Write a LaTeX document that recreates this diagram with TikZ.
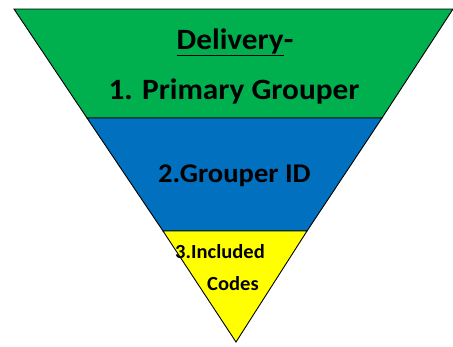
\documentclass[tikz,border=0pt]{standalone}
\usepackage{fontspec}
\setmainfont{Carlito}
\usepackage{tikz}
\definecolor{green}{rgb}{0,0.69,0.31}
\definecolor{blue}{rgb}{0,0.44,0.75}
\definecolor{yellow}{rgb}{1,1,0}
\tikzset{
    layer/.style = {draw=black, line width=0.9pt, line join=miter},
    label/.style = {anchor=base, font=\bfseries\fontsize{#1}{#1}\selectfont, inner sep=0pt, xscale=1.06}
}

\begin{document}
\begin{tikzpicture}[x=1pt,y=-1pt]
    \useasboundingbox (0,0) rectangle (453,346);
    
    \coordinate (tl) at (14,9);
    \coordinate (tr) at (453,9);
    \coordinate (ml) at (87,118);
    \coordinate (mr) at (382,118);
    \coordinate (bl) at (163,231);
    \coordinate (br) at (307,231);
    \coordinate (apex) at (236,342);
    
    \draw [layer, fill=green] (tl) -- (tr) -- (mr) -- (ml) -- cycle;
    \draw [layer, fill=blue] (ml) -- (mr) -- (br) -- (bl) -- cycle;
    \draw [layer, fill=yellow] (bl) -- (br) -- (apex) -- cycle;
    
    \node [label=29.5] (title) at (235,49) {\underline{Delivery}-};
    \node [label=29.5] (primary) at (234,99) {1. Primary Grouper};
    \node [label=27] (grouper) at (234.5,182) {2.Grouper ID};
    \node [label=20, xscale=0.97] (included) at (220,258) {3.Included};
    \node [label=20, xscale=0.97] (codes) at (233,290) {Codes};
\end{tikzpicture}
\end{document}
